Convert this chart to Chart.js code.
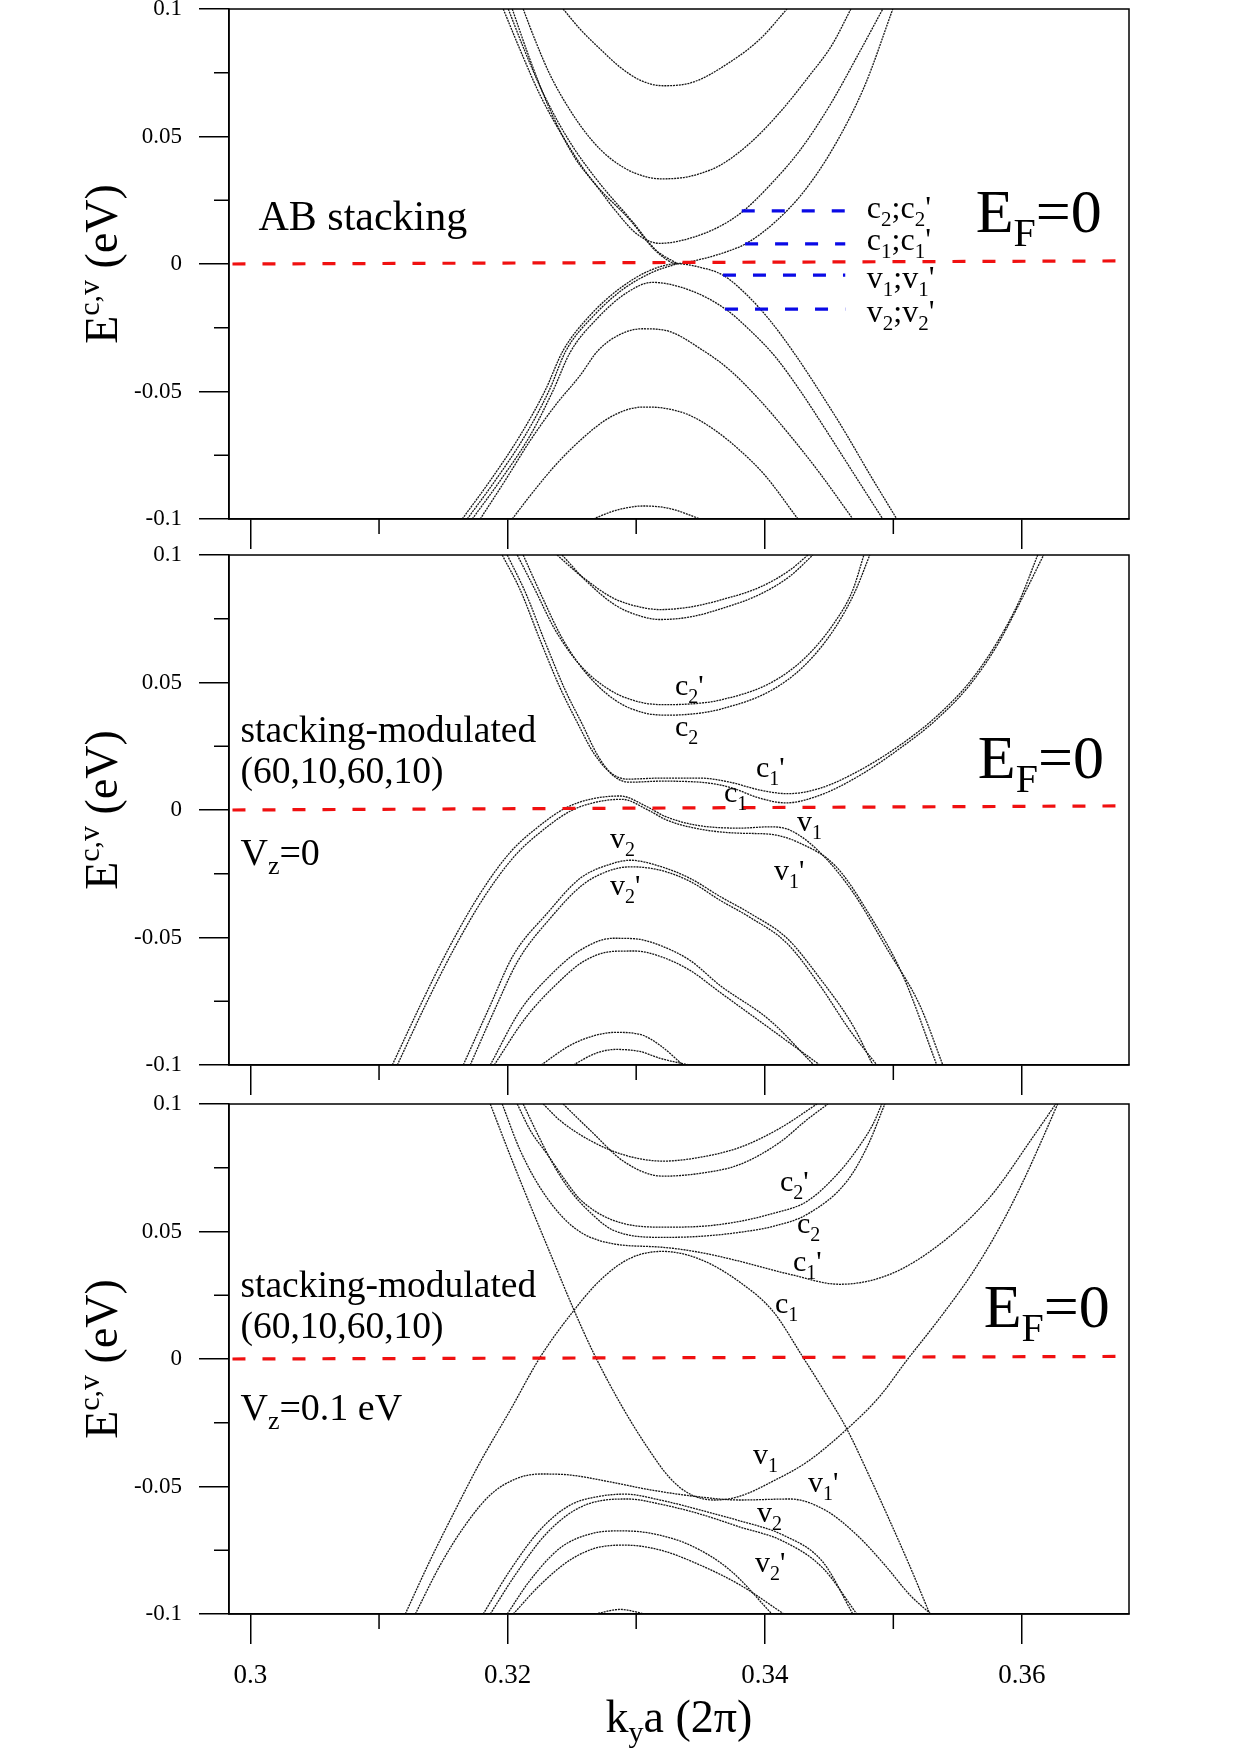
<!DOCTYPE html>
<html>
<head>
<meta charset="utf-8">
<script src="https://cdn.jsdelivr.net/npm/chart.js@4.4.0/dist/chart.umd.min.js"></script>
<style>
  html, body { margin: 0; padding: 0; background: #fff; }
  #wrap { position: relative; width: 1240px; height: 1754px; overflow: hidden; background: #fff; }
  canvas { position: absolute; left: 0; top: -60px; }
</style>
</head>
<body>
<div id="wrap">
  <canvas id="p1" width="1240" height="1874"></canvas>
  <canvas id="p2" width="1240" height="1874"></canvas>
  <canvas id="p3" width="1240" height="1874"></canvas>
</div>
<script>
// axis ticks
const kTicks = [0.30, 0.32, 0.34, 0.36];
const kMinor = [0.31, 0.33, 0.35];
const eTicks = [-0.1, -0.05, 0, 0.05, 0.1];
const eMinor = [-0.075, -0.025, 0.025, 0.075];

// Fermi level (dashed red) and AB level markers (dashed blue)
const efK = [0.2986, 0.3673];
const efE1 = [0, 0.0012];
const efE2 = [0, 0.0016];
const efE3 = [0, 0.0010];
const levelE = [0.0208, 0.0079, -0.0044, -0.0177];
const levelK0 = [0.33821, 0.33847, 0.33675, 0.33691];
const levelK1 = 0.34626;

// ---- panel 1 : AB stacking, [k, E] ----
const abC4 = [[0.32432,0.1],[0.32564,0.0921],[0.3272,0.0843],[0.32875,0.0772],[0.3303,0.0721],[0.33209,0.0699],[0.33442,0.0713],[0.33706,0.0784],[0.33963,0.0882],[0.34173,0.1]];
const abC3 = [[0.32121,0.1],[0.32214,0.0878],[0.32331,0.0741],[0.32486,0.0603],[0.32642,0.0493],[0.32797,0.0415],[0.32992,0.0356],[0.33201,0.0334],[0.33419,0.0344],[0.33652,0.0387],[0.33885,0.0474],[0.34118,0.0595],[0.34351,0.0741],[0.34522,0.0858],[0.3467,0.1]];
const abC2 = [[0.32036,0.1],[0.32176,0.0799],[0.32331,0.0603],[0.32525,0.0415],[0.32688,0.0309],[0.32836,0.0211],[0.33007,0.0117],[0.33186,0.0081],[0.33419,0.0101],[0.33652,0.0148],[0.33831,0.0207],[0.3404,0.0309],[0.34274,0.0446],[0.34507,0.0623],[0.34724,0.0819],[0.34918,0.1]];
const abC1 = [[0.31966,0.1],[0.32098,0.0839],[0.32253,0.0662],[0.32448,0.0485],[0.32657,0.0328],[0.32953,0.0172],[0.33147,0.0054],[0.33318,0.0002],[0.33497,0.0018],[0.33691,0.0046],[0.33858,0.0081],[0.34079,0.0164],[0.34312,0.0289],[0.34545,0.0466],[0.34779,0.0701],[0.34996,0.1]];
const abC1b = [[0.32005,0.1],[0.32137,0.0831],[0.32292,0.0654],[0.32486,0.0477],[0.32704,0.0324],[0.32968,0.0168],[0.33155,0.0054],[0.33318,0.0002]];
const abV1 = [[0.31647,-0.1],[0.31865,-0.0849],[0.32098,-0.0672],[0.32292,-0.0496],[0.32432,-0.0339],[0.32642,-0.0201],[0.32875,-0.0095],[0.33108,-0.0025],[0.33318,0.0001],[0.33497,-0.0013],[0.33675,-0.0044],[0.33846,-0.0114],[0.3404,-0.0221],[0.34235,-0.0354],[0.34429,-0.0502],[0.34623,-0.0658],[0.34817,-0.0825],[0.35027,-0.1]];
const abV1b = [[0.31686,-0.1],[0.31904,-0.0849],[0.32137,-0.0672],[0.32323,-0.0496],[0.32455,-0.0339],[0.32665,-0.0205],[0.32898,-0.0099],[0.33124,-0.0033],[0.33318,0.0001]];
const abV2 = [[0.31725,-0.1],[0.31943,-0.0849],[0.32176,-0.0672],[0.32354,-0.0496],[0.32486,-0.0347],[0.32696,-0.0214],[0.32929,-0.0112],[0.33124,-0.0072],[0.33419,-0.0103],[0.33698,-0.0178],[0.33885,-0.026],[0.34079,-0.0362],[0.34274,-0.0496],[0.34468,-0.0645],[0.34701,-0.0829],[0.34918,-0.1]];
const abV3 = [[0.31787,-0.1],[0.31981,-0.0849],[0.32176,-0.0692],[0.3237,-0.0555],[0.32564,-0.0437],[0.32704,-0.0339],[0.32875,-0.0276],[0.33046,-0.0254],[0.33225,-0.026],[0.3352,-0.0339],[0.3373,-0.0417],[0.33963,-0.0535],[0.34196,-0.0672],[0.34429,-0.0821],[0.34685,-0.1]];
const abV4 = [[0.32036,-0.1],[0.32176,-0.0908],[0.3237,-0.079],[0.32564,-0.0692],[0.32758,-0.0613],[0.32914,-0.0574],[0.33054,-0.0561],[0.33225,-0.0566],[0.33419,-0.0594],[0.33613,-0.0652],[0.33807,-0.0731],[0.34002,-0.0829],[0.34258,-0.1]];
const abV5 = [[0.32665,-0.1],[0.32836,-0.0967],[0.33054,-0.0949],[0.33263,-0.0959],[0.33497,-0.1]];

// ---- panel 2 : stacking-modulated, Vz = 0 ----
const smC4a = [[0.32385,0.1],[0.32564,0.0921],[0.32821,0.0831],[0.3303,0.0796],[0.33186,0.0786],[0.33419,0.0796],[0.33652,0.0823],[0.33963,0.0874],[0.34196,0.0941],[0.34336,0.1]];
const smC4b = [[0.32424,0.1],[0.32603,0.0902],[0.32836,0.0804],[0.3303,0.0761],[0.33186,0.0747],[0.33419,0.0757],[0.33652,0.0788],[0.33963,0.0846],[0.34196,0.0917],[0.34374,0.1]];
const smC2b = [[0.32075,0.1],[0.32214,0.0863],[0.3237,0.0706],[0.32564,0.0568],[0.32797,0.047],[0.3303,0.0423],[0.33225,0.0413],[0.33497,0.0419],[0.33652,0.0431],[0.3404,0.0497],[0.34312,0.0596],[0.34545,0.0737],[0.34685,0.0863],[0.34771,0.1]];
const smC2 = [[0.32121,0.1],[0.32269,0.0835],[0.32424,0.0674],[0.32603,0.0541],[0.32836,0.0431],[0.33069,0.038],[0.33263,0.0372],[0.33497,0.038],[0.33652,0.0395],[0.3404,0.0466],[0.34312,0.0568],[0.34545,0.0713],[0.34701,0.0855],[0.34817,0.1]];
const smC1b = [[0.31958,0.1],[0.32098,0.0863],[0.32253,0.0666],[0.32409,0.0478],[0.32541,0.0344],[0.32665,0.0227],[0.32797,0.0148],[0.32929,0.0121],[0.33186,0.0125],[0.33497,0.0125],[0.3373,0.0109],[0.33963,0.0078],[0.3418,0.0064],[0.34429,0.0085],[0.3474,0.0156],[0.35074,0.0262],[0.35338,0.0368],[0.35594,0.0502],[0.35804,0.0655],[0.35983,0.0823],[0.36123,0.1]];
const smC1 = [[0.31997,0.1],[0.32137,0.0855],[0.32292,0.0658],[0.32448,0.047],[0.3258,0.0337],[0.32704,0.0211],[0.32828,0.0132],[0.32953,0.0109],[0.33186,0.0113],[0.33497,0.0109],[0.3373,0.0089],[0.33963,0.0046],[0.34165,0.0028],[0.34429,0.0058],[0.3474,0.0136],[0.35074,0.025],[0.35338,0.0356],[0.35594,0.049],[0.35804,0.0643],[0.35983,0.0812],[0.36169,0.1]];
const smV1 = [[0.31103,-0.1],[0.31321,-0.0766],[0.31554,-0.0531],[0.31787,-0.0327],[0.3202,-0.0166],[0.32253,-0.006],[0.32448,0.0007],[0.32642,0.0042],[0.32875,0.0055],[0.33077,0.0015],[0.33225,-0.0025],[0.33473,-0.006],[0.33807,-0.0071],[0.3404,-0.0066],[0.34196,-0.0079],[0.34429,-0.0166],[0.34685,-0.0322],[0.34949,-0.0543],[0.35206,-0.0766],[0.35385,-0.1]];
const smV1b = [[0.31142,-0.1],[0.3136,-0.0766],[0.31593,-0.0535],[0.31826,-0.0335],[0.32059,-0.0178],[0.32292,-0.0072],[0.32486,-0.0005],[0.32681,0.003],[0.3289,0.0042],[0.33092,0.0],[0.3324,-0.004],[0.33497,-0.0075],[0.33807,-0.0091],[0.3404,-0.0095],[0.34274,-0.013],[0.34553,-0.0221],[0.34817,-0.0413],[0.35074,-0.0649],[0.35338,-0.1]];
const smV2 = [[0.31655,-0.1],[0.31865,-0.0766],[0.32044,-0.057],[0.32308,-0.0405],[0.32564,-0.0268],[0.32821,-0.0209],[0.32953,-0.0197],[0.33186,-0.0221],[0.33419,-0.0268],[0.33652,-0.0339],[0.33885,-0.0405],[0.34173,-0.0503],[0.34429,-0.066],[0.34685,-0.0845],[0.34841,-0.1]];
const smV2b = [[0.31709,-0.1],[0.31904,-0.0778],[0.32082,-0.059],[0.32331,-0.0425],[0.32587,-0.0292],[0.32821,-0.0233],[0.32968,-0.0223],[0.33186,-0.0236],[0.33419,-0.028],[0.33652,-0.0354],[0.33885,-0.0421],[0.34173,-0.0523],[0.34429,-0.0688],[0.34662,-0.0864],[0.34872,-0.1]];
const smV3 = [[0.31865,-0.1],[0.32098,-0.0786],[0.32331,-0.0649],[0.32564,-0.055],[0.32821,-0.0503],[0.32992,-0.0505],[0.33186,-0.0531],[0.33419,-0.059],[0.33652,-0.0688],[0.3404,-0.0825],[0.34382,-0.1]];
const smV3b = [[0.31896,-0.1],[0.32137,-0.0817],[0.3237,-0.0688],[0.32603,-0.059],[0.32836,-0.0554],[0.32992,-0.0553],[0.33186,-0.0574],[0.33419,-0.0629],[0.33652,-0.0715],[0.3404,-0.0857],[0.34429,-0.1]];
const smV4 = [[0.32261,-0.1],[0.32486,-0.0923],[0.32681,-0.0884],[0.32836,-0.0872],[0.3303,-0.088],[0.33186,-0.0923],[0.33364,-0.1]];
const smV4b = [[0.3251,-0.1],[0.32681,-0.0955],[0.32836,-0.0939],[0.3303,-0.0947],[0.33186,-0.0974],[0.33411,-0.1]];

// ---- panel 3 : stacking-modulated, Vz = 0.1 eV ----
const vzV1 = [[0.31865,0.1],[0.3202,0.0798],[0.32176,0.0603],[0.32331,0.0415],[0.3251,0.0199],[0.32665,0.0027],[0.32875,-0.0173],[0.33085,-0.0345],[0.33263,-0.0467],[0.33419,-0.053],[0.33613,-0.0553],[0.33807,-0.0538],[0.34064,-0.0479],[0.34328,-0.0404],[0.34639,-0.0275],[0.34895,-0.0146],[0.35105,-0.0005],[0.35361,0.016],[0.35618,0.034],[0.35828,0.0517],[0.36006,0.0693],[0.36154,0.0857],[0.36278,0.1]];
const vzC1 = [[0.31204,-0.1],[0.31399,-0.0788],[0.31593,-0.0592],[0.31787,-0.0404],[0.3202,-0.0201],[0.32253,0.0007],[0.3251,0.0187],[0.3272,0.0309],[0.32953,0.0395],[0.33209,0.0422],[0.33497,0.0391],[0.33807,0.0301],[0.34064,0.0187],[0.34297,0.0007],[0.34468,-0.013],[0.34639,-0.0275],[0.34817,-0.0463],[0.34973,-0.0635],[0.35128,-0.0812],[0.35284,-0.1]];
const vzC1b = [[0.31958,0.1],[0.32098,0.0818],[0.32292,0.0642],[0.32525,0.0512],[0.32797,0.0454],[0.33209,0.0438],[0.33497,0.0418],[0.33807,0.0383],[0.34196,0.0332],[0.34584,0.0293],[0.34973,0.0332],[0.35361,0.045],[0.3575,0.0634],[0.36084,0.0869],[0.36263,0.1]];
const vzC2b = [[0.32075,0.1],[0.32176,0.0897],[0.32308,0.0803],[0.32448,0.0701],[0.32564,0.0626],[0.32821,0.0544],[0.33209,0.0517],[0.33497,0.052],[0.33807,0.054],[0.34064,0.0571],[0.34328,0.0618],[0.34584,0.0736],[0.3474,0.0838],[0.34841,0.092],[0.34911,0.1]];
const vzC2 = [[0.32121,0.1],[0.32238,0.0877],[0.32354,0.0764],[0.32486,0.0661],[0.32642,0.0575],[0.32821,0.0505],[0.33209,0.0477],[0.33497,0.0481],[0.33807,0.0497],[0.34064,0.052],[0.34328,0.0567],[0.34639,0.0697],[0.34802,0.0838],[0.34934,0.1]];
const vzC4b = [[0.32277,0.1],[0.32409,0.0935],[0.32642,0.0857],[0.32914,0.0799],[0.33209,0.0776],[0.33497,0.0791],[0.33807,0.083],[0.34118,0.0905],[0.34406,0.1]];
const vzC4 = [[0.32432,0.1],[0.32642,0.0897],[0.32914,0.0771],[0.33209,0.0717],[0.33497,0.0728],[0.33807,0.0763],[0.34118,0.085],[0.3432,0.0935],[0.34491,0.1]];
const vzV1b = [[0.31282,-0.1],[0.31476,-0.0808],[0.31671,-0.0651],[0.31865,-0.0533],[0.32059,-0.0471],[0.32253,-0.0451],[0.32486,-0.0455],[0.32797,-0.0482],[0.33108,-0.0513],[0.33497,-0.0541],[0.33807,-0.0553],[0.34196,-0.0549],[0.34468,-0.0592],[0.34716,-0.069],[0.34934,-0.0808],[0.35128,-0.0925],[0.35291,-0.1]];
const vzV2 = [[0.3181,-0.1],[0.3202,-0.0828],[0.32253,-0.067],[0.32486,-0.0573],[0.3272,-0.0538],[0.32914,-0.053],[0.33186,-0.0553],[0.33497,-0.0592],[0.33807,-0.0635],[0.34141,-0.069],[0.34452,-0.0796],[0.34685,-0.1]];
const vzV2b = [[0.31865,-0.1],[0.32059,-0.0847],[0.32292,-0.069],[0.32525,-0.0592],[0.32758,-0.0553],[0.32937,-0.0549],[0.33186,-0.0569],[0.33497,-0.0608],[0.33807,-0.0659],[0.34141,-0.0714],[0.34452,-0.082],[0.34716,-0.1]];
const vzV3 = [[0.31997,-0.1],[0.32176,-0.0867],[0.32409,-0.0741],[0.32642,-0.0686],[0.32875,-0.0674],[0.33108,-0.0683],[0.33419,-0.073],[0.3373,-0.0828],[0.34056,-0.1]];
const vzV3b = [[0.32044,-0.1],[0.32253,-0.0886],[0.32486,-0.0788],[0.3272,-0.0737],[0.32914,-0.073],[0.33186,-0.0749],[0.33497,-0.0808],[0.33807,-0.0886],[0.34149,-0.1]];
const vzV5 = [[0.32681,-0.1],[0.32875,-0.0982],[0.33069,-0.1]];

// ---- layout ----
const K_MIN = 0.29833, K_MAX = 0.36833;
const PANEL_TOPS = [9, 555, 1104];
const PANEL_H = 510;
const OFF = 60, CANVAS_H = 1874;
const FONT = '"Liberation Serif", "Times New Roman", serif';
Chart.defaults.font.family = FONT;
Chart.defaults.color = '#000';

// label helpers: [text, size, dy]
const sub = (main, s, big = 30, small = 20) => [[main, big, 0], [s, small, Math.round(big * 0.25)]];
const band = (m, s, prime) => prime ? sub(m, s).concat([["'", 30, 0]]) : sub(m, s);
const level = (a, s) => [[a, 32, 0], [s, 21, 8], [';' + a, 32, 0], [s, 21, 8], ["'", 32, 0]];
const ef = [['E', 62, 0], ['F', 40, 14], ['=0', 62, 0]];
const yTitle = [['E', 46, 0], ['c,v', 30, -18], [' (eV)', 46, 0]];
const xTitle = [['k', 46, 0], ['y', 30, 10], ['a (2\u03c0)', 46, 0]];

const abTexts = [
  { k: 0.30062, e: 0.0132, parts: [['AB stacking', 42, 0]] },
  { k: 0.34794, e: 0.0180, parts: level('c', '2') },
  { k: 0.34794, e: 0.0054, parts: level('c', '1') },
  { k: 0.34794, e: -0.0093, parts: level('v', '1') },
  { k: 0.34794, e: -0.0226, parts: level('v', '2') },
  { k: 0.35641, e: 0.0124, parts: ef }
];
const smTexts = [
  { k: 0.29922, e: 0.0267, parts: [['stacking-modulated', 37.5, 0]] },
  { k: 0.29922, e: 0.0105, parts: [['(60,10,60,10)', 37.5, 0]] },
  { k: 0.29922, e: -0.0217, parts: [['V', 38, 0], ['z', 26, 9], ['=0', 38, 0]] },
  { k: 0.35657, e: 0.0127, parts: ef },
  { k: 0.33302, e: 0.0450, parts: band('c', '2', true) },
  { k: 0.33302, e: 0.0290, parts: band('c', '2') },
  { k: 0.33932, e: 0.0129, parts: band('c', '1', true) },
  { k: 0.33683, e: 0.0032, parts: band('c', '1') },
  { k: 0.34250, e: -0.0083, parts: band('v', '1') },
  { k: 0.34072, e: -0.0274, parts: band('v', '1', true) },
  { k: 0.32797, e: -0.0150, parts: band('v', '2') },
  { k: 0.32797, e: -0.0335, parts: band('v', '2', true) }
];
const vzTexts = [
  { k: 0.29922, e: 0.0243, parts: [['stacking-modulated', 37.5, 0]] },
  { k: 0.29922, e: 0.0082, parts: [['(60,10,60,10)', 37.5, 0]] },
  { k: 0.29922, e: -0.0241, parts: [['V', 38, 0], ['z', 26, 9], ['=0.1 eV', 38, 0]] },
  { k: 0.35703, e: 0.0125, parts: ef },
  { k: 0.34118, e: 0.0659, parts: band('c', '2', true) },
  { k: 0.34250, e: 0.0496, parts: band('c', '2') },
  { k: 0.34219, e: 0.0345, parts: band('c', '1', true) },
  { k: 0.34079, e: 0.0182, parts: band('c', '1') },
  { k: 0.33908, e: -0.0412, parts: band('v', '1') },
  { k: 0.34336, e: -0.0523, parts: band('v', '1', true) },
  { k: 0.33939, e: -0.0641, parts: band('v', '2') },
  { k: 0.33924, e: -0.0837, parts: band('v', '2', true) }
];

function drawParts(ctx, x, y, parts) {
  let cx = x;
  parts.forEach(([t, size, dy]) => {
    ctx.font = size + 'px ' + FONT;
    ctx.fillText(t, cx, y + dy);
    cx += ctx.measureText(t).width;
  });
}
function partsWidth(ctx, parts) {
  let w = 0;
  parts.forEach(([t, size]) => { ctx.font = size + 'px ' + FONT; w += ctx.measureText(t).width; });
  return w;
}

function decor(texts, withXTitle) {
  return {
    id: 'decor',
    afterDraw(chart) {
      const { ctx, chartArea: a } = chart;
      const xs = chart.scales.x, ys = chart.scales.y;
      ctx.save();
      ctx.strokeStyle = '#000';
      ctx.lineWidth = 1.5;
      ctx.strokeRect(a.left, a.top, a.right - a.left, a.bottom - a.top);
      // minor ticks
      ctx.beginPath();
      kMinor.forEach(v => { const p = xs.getPixelForValue(v); ctx.moveTo(p, a.bottom); ctx.lineTo(p, a.bottom + 15); });
      eMinor.forEach(v => { const p = ys.getPixelForValue(v); ctx.moveTo(a.left - 15, p); ctx.lineTo(a.left, p); });
      ctx.stroke();
      // annotations
      ctx.fillStyle = '#000';
      ctx.textAlign = 'left';
      ctx.textBaseline = 'alphabetic';
      texts.forEach(t => drawParts(ctx, xs.getPixelForValue(t.k), ys.getPixelForValue(t.e), t.parts));
      // y title
      ctx.save();
      ctx.translate(a.left - 112, (a.top + a.bottom) / 2);
      ctx.rotate(-Math.PI / 2);
      drawParts(ctx, -partsWidth(ctx, yTitle) / 2, 0, yTitle);
      ctx.restore();
      if (withXTitle) {
        drawParts(ctx, (a.left + a.right) / 2 - partsWidth(ctx, xTitle) / 2, a.bottom + 118, xTitle);
      }
      ctx.restore();
    }
  };
}

const toXY = pts => pts.map(p => ({ x: p[0], y: p[1] }));

function makePanel(id, idx, bands, efE, texts, showX, withLevels) {
  const top = PANEL_TOPS[idx];
  const axisH = showX ? 100 : 40;
  const datasets = [];
  datasets.push({ data: toXY([[efK[0], efE[0]], [efK[1], efE[1]]]), borderColor: '#f01010', borderWidth: 3.2, borderDash: [13, 17], tension: 0 });
  if (withLevels) {
    levelE.forEach((e, i) => datasets.push({ data: toXY([[levelK0[i], e], [levelK1, e]]), borderColor: '#0a0ae6', borderWidth: 3.3, borderDash: [13, 17], tension: 0 }));
  }
  bands.forEach(b => datasets.push({ data: toXY(b), borderColor: '#151515', borderWidth: 1.3, borderDash: [2, 0.9], cubicInterpolationMode: 'monotone' }));
  return new Chart(document.getElementById(id), {
    type: 'line',
    data: { datasets },
    options: {
      responsive: false,
      animation: false,
      devicePixelRatio: 1,
      layout: { padding: { left: 0, right: 111, top: top + OFF, bottom: CANVAS_H - (top + OFF + PANEL_H) - axisH } },
      plugins: { legend: { display: false }, tooltip: { enabled: false } },
      elements: { point: { radius: 0 } },
      scales: {
        x: {
          type: 'linear', min: K_MIN, max: K_MAX,
          afterBuildTicks: s => { s.ticks = kTicks.map(v => ({ value: v })); },
          afterFit: s => { s.height = axisH; },
          grid: { drawOnChartArea: false, tickLength: 30, color: '#000', lineWidth: 1.5 },
          border: { color: '#000', width: 1.5 },
          ticks: { display: showX, autoSkip: false, maxRotation: 0, padding: 16, color: '#000', font: { size: 27 }, callback: v => String(v) }
        },
        y: {
          type: 'linear', min: -0.1, max: 0.1,
          afterBuildTicks: s => { s.ticks = eTicks.map(v => ({ value: v })); },
          afterFit: s => { s.width = 229; },
          grid: { drawOnChartArea: false, tickLength: 30, color: '#000', lineWidth: 1.5 },
          border: { color: '#000', width: 1.5 },
          ticks: { padding: 17, color: '#000', font: { size: 23 }, callback: v => String(v) }
        }
      }
    },
    plugins: [decor(texts, showX)]
  });
}

makePanel('p1', 0, [abC4, abC3, abC2, abC1, abC1b, abV1, abV1b, abV2, abV3, abV4, abV5], efE1, abTexts, false, true);
makePanel('p2', 1, [smC4a, smC4b, smC2b, smC2, smC1b, smC1, smV1, smV1b, smV2, smV2b, smV3, smV3b, smV4, smV4b], efE2, smTexts, false, false);
makePanel('p3', 2, [vzV1, vzC1, vzC1b, vzC2b, vzC2, vzC4b, vzC4, vzV1b, vzV2, vzV2b, vzV3, vzV3b, vzV5], efE3, vzTexts, true, false);
</script>
</body>
</html>
